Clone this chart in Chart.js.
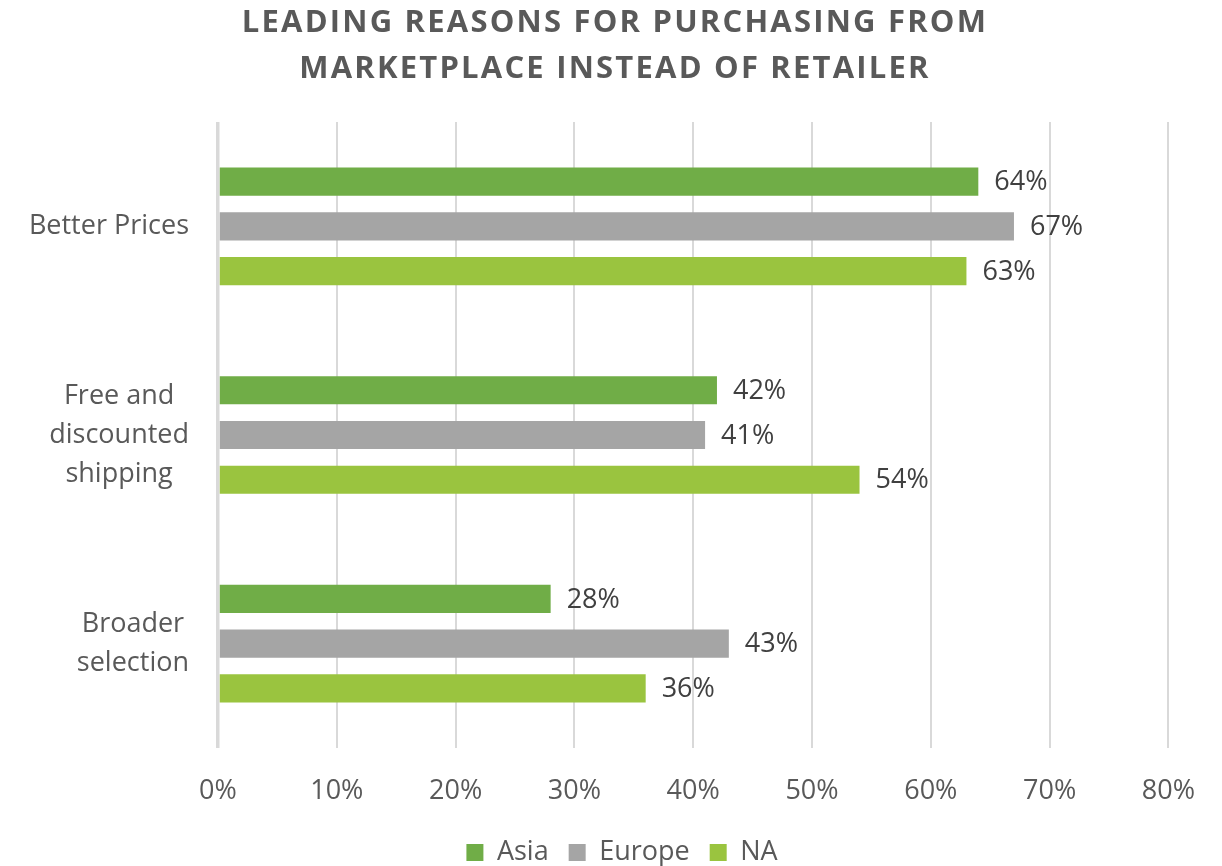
<!DOCTYPE html>
<html>
<head>
<meta charset="utf-8">
<script src="https://cdn.jsdelivr.net/npm/chart.js@4.4.1/dist/chart.umd.min.js"></script>
<style>
html,body{margin:0;padding:0;background:#fff;overflow:hidden;}
#wrap{width:1222px;height:876px;position:relative;}
</style>
</head>
<body>
<div id="wrap"><canvas id="c"></canvas></div>
<script>
const titleLines = ['LEADING REASONS FOR PURCHASING FROM', 'MARKETPLACE INSTEAD OF RETAILER'];
const categories = ['Better Prices', ['Free and', 'discounted', 'shipping'], ['Broader', 'selection']];
const seriesNames = ['Asia', 'Europe', 'NA'];
const asiaValues = [64, 42, 28];
const europeValues = [67, 41, 43];
const naValues = [63, 54, 36];
const xTickValues = [0, 10, 20, 30, 40, 50, 60, 70, 80];

const FONT = "'Open Sans', 'DejaVu Sans', sans-serif";

const titlePlugin = {
  id: 'customTitle',
  afterDraw(chart) {
    const ctx = chart.ctx;
    ctx.save();
    ctx.font = "bold 31px " + FONT;
    ctx.fillStyle = '#595959';
    ctx.textAlign = 'center';
    ctx.textBaseline = 'alphabetic';
    if ('letterSpacing' in ctx) ctx.letterSpacing = '2.2px';
    const baselines = [32, 78];
    titleLines.forEach((t, i) => ctx.fillText(t, 615, baselines[i]));
    ctx.restore();
  }
};

// category labels: each block right-aligned to the axis, lines centred within the block
const categoryLabels = {
  id: 'categoryLabels',
  afterDraw(chart) {
    const ctx = chart.ctx;
    const scale = chart.scales.y;
    ctx.save();
    ctx.font = "27px " + FONT;
    ctx.fillStyle = '#595959';
    ctx.textAlign = 'center';
    ctx.textBaseline = 'middle';
    const pitch = 39;
    const blockRight = 189;
    chart.data.labels.forEach((lab, i) => {
      const lines = Array.isArray(lab) ? lab : [lab];
      const w = Math.max(...lines.map(l => ctx.measureText(l).width));
      const cx = blockRight - w / 2;
      const cy = scale.getPixelForTick(i);
      lines.forEach((l, j) => {
        ctx.fillText(l, cx, cy + (j - (lines.length - 1) / 2) * pitch);
      });
    });
    ctx.restore();
  }
};

const valueLabels = {
  id: 'valueLabels',
  afterDatasetsDraw(chart) {
    const ctx = chart.ctx;
    ctx.save();
    ctx.font = "27px " + FONT;
    ctx.fillStyle = '#404040';
    ctx.textAlign = 'left';
    ctx.textBaseline = 'middle';
    chart.data.datasets.forEach((ds, di) => {
      const meta = chart.getDatasetMeta(di);
      meta.data.forEach((el, i) => {
        ctx.fillText(ds.data[i] + '%', el.x + 16, el.y + 1);
      });
    });
    ctx.restore();
  }
};

new Chart(document.getElementById('c'), {
  type: 'bar',
  data: {
    labels: categories,
    datasets: [
      { label: seriesNames[0], data: asiaValues, backgroundColor: '#70AD47' },
      { label: seriesNames[1], data: europeValues, backgroundColor: '#A5A5A5' },
      { label: seriesNames[2], data: naValues, backgroundColor: '#9AC43F' }
    ]
  },
  options: {
    indexAxis: 'y',
    responsive: true,
    maintainAspectRatio: false,
    animation: false,
    categoryPercentage: 0.643,
    barPercentage: 0.63,
    layout: { padding: { top: 122, right: 53, left: 75, bottom: 0 } },
    scales: {
      x: {
        min: 0, max: 80,
        afterBuildTicks(scale) { scale.ticks = xTickValues.map(v => ({ value: v })); },
        afterFit(scale) { scale.height = 71; },
        grid: {
          color: '#D9D9D9',
          lineWidth: ctx => ctx.index === 0 ? 3.5 : 2,
          drawTicks: false
        },
        border: { display: false },
        ticks: {
          padding: 27,
          color: '#595959',
          font: { family: FONT, size: 27 },
          callback: v => v + '%'
        }
      },
      y: {
        afterFit(scale) { scale.width = 143; },
        grid: { display: false, drawTicks: false },
        border: { display: false },
        ticks: { display: false }
      }
    },
    plugins: {
      title: { display: false },
      tooltip: { enabled: false },
      legend: {
        display: true,
        position: 'bottom',
        labels: {
          boxWidth: 17,
          boxHeight: 17,
          padding: 20,
          color: '#595959',
          font: { family: FONT, size: 27 }
        }
      }
    }
  },
  plugins: [titlePlugin, categoryLabels, valueLabels]
});
</script>
</body>
</html>
